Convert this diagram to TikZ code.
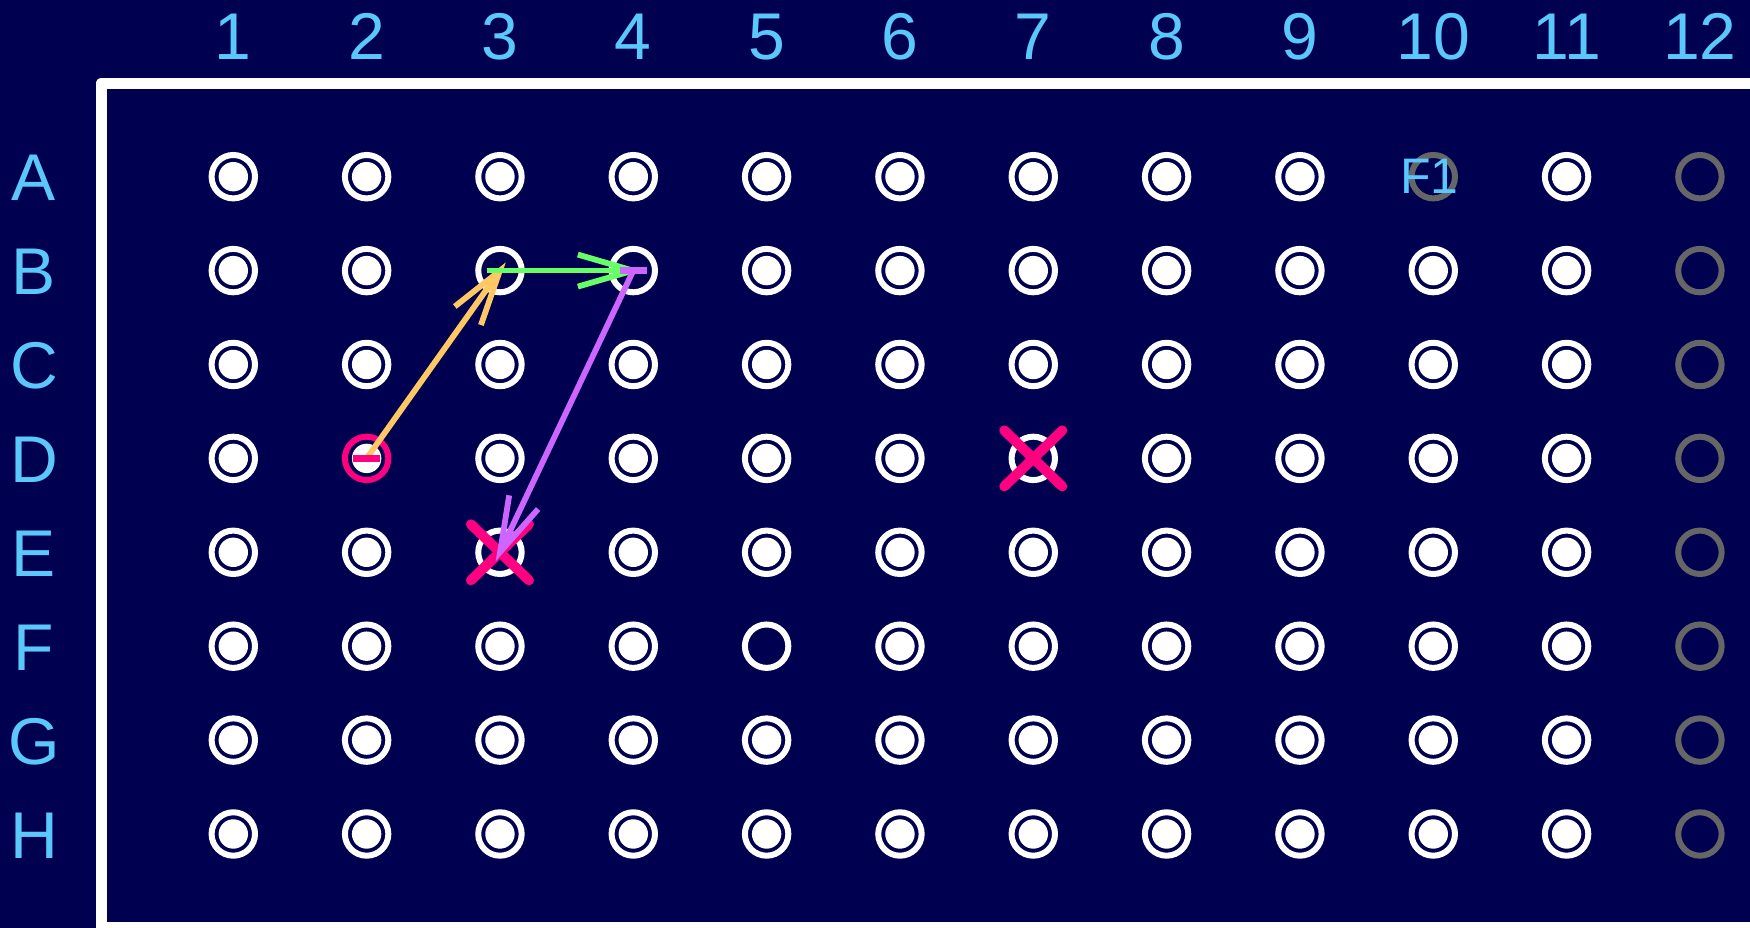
\documentclass[tikz,border=0pt]{standalone}
\usepackage{fontspec}
\setmainfont{Liberation Sans}
\usetikzlibrary{arrows.meta,calc}
\definecolor{plate}{HTML}{000050}
\definecolor{labelblue}{HTML}{5AC8FA}
\definecolor{spare}{HTML}{666666}
\definecolor{hotpink}{HTML}{FF0080}
\definecolor{movea}{HTML}{FFC864}
\definecolor{moveb}{HTML}{66FF66}
\definecolor{movec}{HTML}{CC66FF}
\tikzset{
  well/.style={circle, draw=white, line width=0.06cm, minimum size=0.434cm, inner sep=0pt,
    path picture={\fill[white] (path picture bounding box.center) circle (0.147cm);}},
  open/.style={path picture={}},
  unused/.style={draw=spare, path picture={}},
  c12/.style={unused},
  wA10/.style={unused},
  wB3/.style={open}, wB4/.style={open}, wD7/.style={open},
  wE3/.style={open}, wF5/.style={open},
  wD2/.style={draw=hotpink},
  head/.style={text=labelblue, font=\fontsize{18.8pt}{20pt}\selectfont, inner sep=0pt, anchor=base},
  tag/.style={text=labelblue, font=\fontsize{14.2pt}{16pt}\selectfont, inner sep=0pt},
  move/.style={-{Straight Barb[length=0.55cm,width=0.32cm]}, line width=0.058cm, shorten >=-0.1cm},
  startbar/.style={line width=0.065cm},
  cross/.style={hotpink, line width=0.1cm, line cap=round},
  frame/.style={draw=white, line width=0.116cm, line join=round},
}
\begin{document}
\begin{tikzpicture}[x=0.01cm, y=-0.01cm]

  % background
  \fill[plate] (0,0) rectangle (1750,928);
  \useasboundingbox (0,0) rectangle (1750,928);

  % plate outline
  \draw[frame] (101.5,83.5) rectangle (1770,927.5);

  % column and row labels
  \foreach \c in {1,...,12}
    \node[head] (col\c) at ({233.3+133.33*(\c-1)}, 60) {\c};
  \foreach \r [count=\i] in {A,B,C,D,E,F,G,H}
    \node[head] (row\r) at (34, {201+93.9*(\i-1)}) {\r};

  % wells
  \foreach \r [count=\i] in {A,B,C,D,E,F,G,H}
    \foreach \c in {1,...,12}
      \node[well, c\c/.try, w\r\c/.try] (\r\c) at ({233.3+133.33*(\c-1)}, {176.7+93.9*(\i-1)}) {};

  \node[tag, xshift=-0.04cm] (f1) at (A10) {F1};

  % rejected wells
  \foreach \w in {D7,E3}
    \draw[cross] ([shift={(-29,-28)}]\w.center) -- ([shift={(29,28)}]\w.center)
                 ([shift={(-29,28)}]\w.center) -- ([shift={(29,-28)}]\w.center);

  % moves
  \draw[move, movea] (D2.center) -- (B3.center);
  \draw[startbar, hotpink] ([xshift=-0.133cm]D2.center) -- ([xshift=0.133cm]D2.center);
  \draw[move, moveb] ([xshift=-0.133cm]B3.center) -- (B4.center);
  \draw[move, movec] (B4.center) -- (E3.center);
  \draw[startbar, movec] ([xshift=-0.133cm]B4.center) -- ([xshift=0.133cm]B4.center);

\end{tikzpicture}
\end{document}
